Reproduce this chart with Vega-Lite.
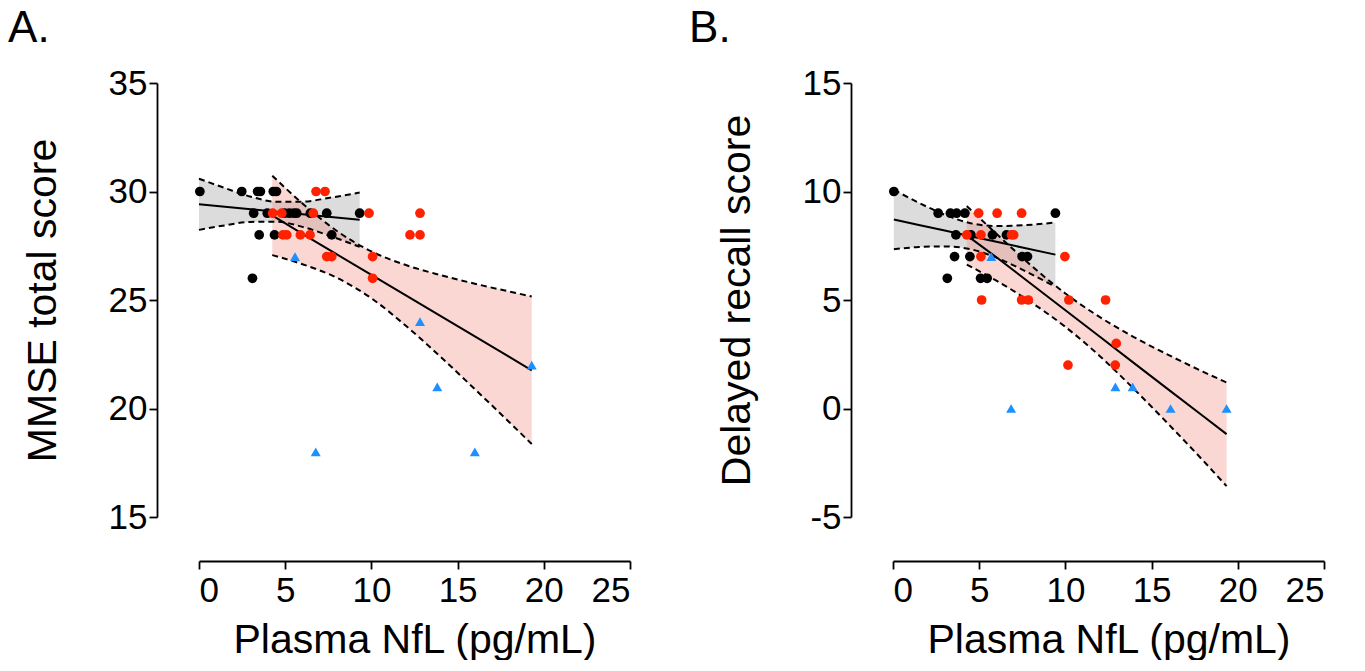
{
  "$schema": "https://vega.github.io/schema/vega-lite/v6.json",
  "background": "white",
  "padding": {"left": 8, "top": 7, "right": 5, "bottom": 0},
  "bounds": "flush",
  "spacing": 263,
  "config": {
    "font": "Liberation Sans",
    "view": {"stroke": null},
    "axis": {
      "grid": false,
      "domainColor": "#000",
      "domainWidth": 1.8,
      "tickColor": "#000",
      "tickWidth": 1.8,
      "tickSize": 8,
      "labelColor": "#000",
      "labelFont": "Liberation Sans",
      "labelFontSize": 35,
      "titleColor": "#000",
      "titleFont": "Liberation Sans",
      "titleFontSize": 41,
      "titleFontWeight": "normal"
    },
    "title": {"font": "Liberation Sans", "fontSize": 44, "fontWeight": "normal", "color": "#000", "anchor": "start", "frame": "bounds"}
  },
  "datasets": {
    "pts": [
      {"panel": "A", "group": "g1", "nfl": 0.05, "value": 30},
      {"panel": "A", "group": "g1", "nfl": 2.48, "value": 30},
      {"panel": "A", "group": "g1", "nfl": 3.4, "value": 30},
      {"panel": "A", "group": "g1", "nfl": 3.56, "value": 30},
      {"panel": "A", "group": "g1", "nfl": 4.31, "value": 30},
      {"panel": "A", "group": "g1", "nfl": 4.49, "value": 30},
      {"panel": "A", "group": "g1", "nfl": 3.17, "value": 29},
      {"panel": "A", "group": "g1", "nfl": 3.96, "value": 29},
      {"panel": "A", "group": "g1", "nfl": 4.96, "value": 29},
      {"panel": "A", "group": "g1", "nfl": 5.24, "value": 29},
      {"panel": "A", "group": "g1", "nfl": 5.5, "value": 29},
      {"panel": "A", "group": "g1", "nfl": 5.67, "value": 29},
      {"panel": "A", "group": "g1", "nfl": 6.46, "value": 29},
      {"panel": "A", "group": "g1", "nfl": 7.41, "value": 29},
      {"panel": "A", "group": "g1", "nfl": 9.32, "value": 29},
      {"panel": "A", "group": "g1", "nfl": 3.49, "value": 28},
      {"panel": "A", "group": "g1", "nfl": 4.38, "value": 28},
      {"panel": "A", "group": "g1", "nfl": 7.7, "value": 28},
      {"panel": "A", "group": "g1", "nfl": 3.1, "value": 26},
      {"panel": "A", "group": "g2", "nfl": 4.27, "value": 29},
      {"panel": "A", "group": "g2", "nfl": 4.8, "value": 29},
      {"panel": "A", "group": "g2", "nfl": 6.63, "value": 29},
      {"panel": "A", "group": "g2", "nfl": 9.86, "value": 29},
      {"panel": "A", "group": "g2", "nfl": 12.82, "value": 29},
      {"panel": "A", "group": "g2", "nfl": 6.79, "value": 30},
      {"panel": "A", "group": "g2", "nfl": 7.31, "value": 30},
      {"panel": "A", "group": "g2", "nfl": 4.87, "value": 28},
      {"panel": "A", "group": "g2", "nfl": 5.09, "value": 28},
      {"panel": "A", "group": "g2", "nfl": 5.88, "value": 28},
      {"panel": "A", "group": "g2", "nfl": 6.44, "value": 28},
      {"panel": "A", "group": "g2", "nfl": 12.24, "value": 28},
      {"panel": "A", "group": "g2", "nfl": 12.82, "value": 28},
      {"panel": "A", "group": "g2", "nfl": 7.41, "value": 27},
      {"panel": "A", "group": "g2", "nfl": 7.7, "value": 27},
      {"panel": "A", "group": "g2", "nfl": 10.07, "value": 27},
      {"panel": "A", "group": "g2", "nfl": 10.07, "value": 26},
      {"panel": "A", "group": "g3", "nfl": 5.57, "value": 27},
      {"panel": "A", "group": "g3", "nfl": 6.77, "value": 18},
      {"panel": "A", "group": "g3", "nfl": 12.82, "value": 24},
      {"panel": "A", "group": "g3", "nfl": 13.82, "value": 21},
      {"panel": "A", "group": "g3", "nfl": 16.0, "value": 18},
      {"panel": "A", "group": "g3", "nfl": 19.3, "value": 22},
      {"panel": "B", "group": "g1", "nfl": 0.05, "value": 10},
      {"panel": "B", "group": "g1", "nfl": 2.62, "value": 9},
      {"panel": "B", "group": "g1", "nfl": 3.33, "value": 9},
      {"panel": "B", "group": "g1", "nfl": 3.69, "value": 9},
      {"panel": "B", "group": "g1", "nfl": 4.17, "value": 9},
      {"panel": "B", "group": "g1", "nfl": 9.42, "value": 9},
      {"panel": "B", "group": "g1", "nfl": 3.65, "value": 8},
      {"panel": "B", "group": "g1", "nfl": 4.52, "value": 8},
      {"panel": "B", "group": "g1", "nfl": 5.77, "value": 8},
      {"panel": "B", "group": "g1", "nfl": 6.58, "value": 8},
      {"panel": "B", "group": "g1", "nfl": 3.57, "value": 7},
      {"panel": "B", "group": "g1", "nfl": 4.46, "value": 7},
      {"panel": "B", "group": "g1", "nfl": 7.49, "value": 7},
      {"panel": "B", "group": "g1", "nfl": 7.8, "value": 7},
      {"panel": "B", "group": "g1", "nfl": 3.15, "value": 6},
      {"panel": "B", "group": "g1", "nfl": 5.08, "value": 6},
      {"panel": "B", "group": "g1", "nfl": 5.46, "value": 6},
      {"panel": "B", "group": "g2", "nfl": 4.97, "value": 9},
      {"panel": "B", "group": "g2", "nfl": 6.04, "value": 9},
      {"panel": "B", "group": "g2", "nfl": 7.46, "value": 9},
      {"panel": "B", "group": "g2", "nfl": 4.28, "value": 8},
      {"panel": "B", "group": "g2", "nfl": 5.1, "value": 8},
      {"panel": "B", "group": "g2", "nfl": 6.87, "value": 8},
      {"panel": "B", "group": "g2", "nfl": 7.0, "value": 8},
      {"panel": "B", "group": "g2", "nfl": 5.1, "value": 7},
      {"panel": "B", "group": "g2", "nfl": 9.97, "value": 7},
      {"panel": "B", "group": "g2", "nfl": 5.14, "value": 5},
      {"panel": "B", "group": "g2", "nfl": 7.46, "value": 5},
      {"panel": "B", "group": "g2", "nfl": 7.85, "value": 5},
      {"panel": "B", "group": "g2", "nfl": 10.2, "value": 5},
      {"panel": "B", "group": "g2", "nfl": 12.33, "value": 5},
      {"panel": "B", "group": "g2", "nfl": 12.95, "value": 3},
      {"panel": "B", "group": "g2", "nfl": 10.15, "value": 2},
      {"panel": "B", "group": "g2", "nfl": 12.89, "value": 2},
      {"panel": "B", "group": "g3", "nfl": 5.7, "value": 7},
      {"panel": "B", "group": "g3", "nfl": 6.85, "value": 0},
      {"panel": "B", "group": "g3", "nfl": 12.9, "value": 1},
      {"panel": "B", "group": "g3", "nfl": 13.9, "value": 1},
      {"panel": "B", "group": "g3", "nfl": 16.1, "value": 0},
      {"panel": "B", "group": "g3", "nfl": 19.35, "value": 0}
    ],
    "fits": [
      {"panel": "A", "group": "g1", "nfl": 0.0, "lo": 28.23, "fit": 29.41, "hi": 30.59},
      {"panel": "A", "group": "g1", "nfl": 1.5, "lo": 28.44, "fit": 29.3, "hi": 30.16},
      {"panel": "A", "group": "g1", "nfl": 3.0, "lo": 28.6, "fit": 29.18, "hi": 29.76},
      {"panel": "A", "group": "g1", "nfl": 4.5, "lo": 28.61, "fit": 29.07, "hi": 29.53},
      {"panel": "A", "group": "g1", "nfl": 6.0, "lo": 28.37, "fit": 28.95, "hi": 29.53},
      {"panel": "A", "group": "g1", "nfl": 7.5, "lo": 27.98, "fit": 28.84, "hi": 29.7},
      {"panel": "A", "group": "g1", "nfl": 9.32, "lo": 27.45, "fit": 28.7, "hi": 29.95},
      {"panel": "A", "group": "g2", "nfl": 4.25, "lo": 27.07, "fit": 28.9, "hi": 30.73},
      {"panel": "A", "group": "g2", "nfl": 6.0, "lo": 26.65, "fit": 28.05, "hi": 29.45},
      {"panel": "A", "group": "g2", "nfl": 8.0, "lo": 26.02, "fit": 27.1, "hi": 28.18},
      {"panel": "A", "group": "g2", "nfl": 10.0, "lo": 25.08, "fit": 26.16, "hi": 27.24},
      {"panel": "A", "group": "g2", "nfl": 12.0, "lo": 23.81, "fit": 25.21, "hi": 26.61},
      {"panel": "A", "group": "g2", "nfl": 14.0, "lo": 22.39, "fit": 24.27, "hi": 26.15},
      {"panel": "A", "group": "g2", "nfl": 16.0, "lo": 20.89, "fit": 23.32, "hi": 25.75},
      {"panel": "A", "group": "g2", "nfl": 18.0, "lo": 19.37, "fit": 22.38, "hi": 25.39},
      {"panel": "A", "group": "g2", "nfl": 19.3, "lo": 18.36, "fit": 21.76, "hi": 25.16},
      {"panel": "B", "group": "g1", "nfl": 0.05, "lo": 7.34, "fit": 8.71, "hi": 10.08},
      {"panel": "B", "group": "g1", "nfl": 1.5, "lo": 7.44, "fit": 8.46, "hi": 9.48},
      {"panel": "B", "group": "g1", "nfl": 3.0, "lo": 7.47, "fit": 8.2, "hi": 8.93},
      {"panel": "B", "group": "g1", "nfl": 4.5, "lo": 7.34, "fit": 7.94, "hi": 8.54},
      {"panel": "B", "group": "g1", "nfl": 6.0, "lo": 6.95, "fit": 7.68, "hi": 8.41},
      {"panel": "B", "group": "g1", "nfl": 7.5, "lo": 6.4, "fit": 7.42, "hi": 8.44},
      {"panel": "B", "group": "g1", "nfl": 9.42, "lo": 5.61, "fit": 7.09, "hi": 8.57},
      {"panel": "B", "group": "g2", "nfl": 4.28, "lo": 6.63, "fit": 7.98, "hi": 9.33},
      {"panel": "B", "group": "g2", "nfl": 6.0, "lo": 5.89, "fit": 6.97, "hi": 8.05},
      {"panel": "B", "group": "g2", "nfl": 8.0, "lo": 4.9, "fit": 5.75, "hi": 6.6},
      {"panel": "B", "group": "g2", "nfl": 10.0, "lo": 3.76, "fit": 4.53, "hi": 5.3},
      {"panel": "B", "group": "g2", "nfl": 12.0, "lo": 2.41, "fit": 3.31, "hi": 4.21},
      {"panel": "B", "group": "g2", "nfl": 14.0, "lo": 0.88, "fit": 2.08, "hi": 3.28},
      {"panel": "B", "group": "g2", "nfl": 16.0, "lo": -0.74, "fit": 0.86, "hi": 2.46},
      {"panel": "B", "group": "g2", "nfl": 18.0, "lo": -2.41, "fit": -0.36, "hi": 1.69},
      {"panel": "B", "group": "g2", "nfl": 19.35, "lo": -3.58, "fit": -1.18, "hi": 1.2}
    ]
  },
  "hconcat": [
    {
      "width": 431,
      "height": 434,
      "title": {"text": "A.", "dx": -14, "offset": 15},
      "encoding": {
        "x": {"field": "nfl", "type": "quantitative", "title": "Plasma NfL (pg/mL)",
              "scale": {"domain": [0, 25], "nice": false, "zero": false},
              "axis": {"values": [0, 5, 10, 15, 20, 25], "offset": 44, "labelPadding": 4, "titlePadding": 12}}
      },
      "layer": [
        {
          "data": {"name": "fits"},
          "transform": [{"filter": "datum.panel === 'A' && datum.group === 'g1'"}],
          "mark": {"type": "area", "color": "#dcdcdc", "interpolate": "monotone"},
          "encoding": {"y": {"field": "lo", "type": "quantitative"}, "y2": {"field": "hi"}}
        },
        {
          "data": {"name": "fits"},
          "transform": [{"filter": "datum.panel === 'A' && datum.group === 'g2'"}],
          "mark": {"type": "area", "color": "#f28b80", "opacity": 0.35, "interpolate": "monotone"},
          "encoding": {"y": {"field": "lo", "type": "quantitative"}, "y2": {"field": "hi"}}
        },
        {
          "data": {"name": "fits"},
          "transform": [{"filter": "datum.panel === 'A'"}],
          "mark": {"type": "line", "color": "#000", "strokeWidth": 2, "strokeDash": [6, 4], "interpolate": "monotone"},
          "encoding": {"y": {"field": "lo", "type": "quantitative"}, "detail": {"field": "group"}}
        },
        {
          "data": {"name": "fits"},
          "transform": [{"filter": "datum.panel === 'A'"}],
          "mark": {"type": "line", "color": "#000", "strokeWidth": 2, "strokeDash": [6, 4], "interpolate": "monotone"},
          "encoding": {"y": {"field": "hi", "type": "quantitative"}, "detail": {"field": "group"}}
        },
        {
          "data": {"name": "fits"},
          "transform": [{"filter": "datum.panel === 'A'"}],
          "mark": {"type": "line", "color": "#000", "strokeWidth": 2},
          "encoding": {"y": {"field": "fit", "type": "quantitative"}, "detail": {"field": "group"}}
        },
        {
          "data": {"name": "pts"},
          "transform": [{"filter": "datum.panel === 'A' && datum.group !== 'g3'"}],
          "mark": {"type": "circle", "size": 95, "opacity": 1},
          "encoding": {
            "y": {"field": "value", "type": "quantitative", "title": "MMSE total score",
                  "scale": {"domain": [15, 35], "nice": false, "zero": false},
                  "axis": {"values": [15, 20, 25, 30, 35], "offset": 42, "labelPadding": 2, "titlePadding": 44}},
            "color": {"field": "group", "type": "nominal", "legend": null,
                      "scale": {"domain": ["g1", "g2", "g3"], "range": ["#000000", "#ff2200", "#1e90ff"]}}
          }
        },
        {
          "data": {"name": "pts"},
          "transform": [{"filter": "datum.panel === 'A' && datum.group === 'g3'"}],
          "mark": {"type": "point", "shape": "triangle-up", "filled": true, "size": 100, "opacity": 1},
          "encoding": {
            "y": {"field": "value", "type": "quantitative"},
            "color": {"field": "group", "type": "nominal", "legend": null}
          }
        }
      ]
    },
    {
      "width": 431,
      "height": 434,
      "title": {"text": "B.", "dx": -27, "offset": 15},
      "encoding": {
        "x": {"field": "nfl", "type": "quantitative", "title": "Plasma NfL (pg/mL)",
              "scale": {"domain": [0, 25], "nice": false, "zero": false},
              "axis": {"values": [0, 5, 10, 15, 20, 25], "offset": 44, "labelPadding": 4, "titlePadding": 12}}
      },
      "layer": [
        {
          "data": {"name": "fits"},
          "transform": [{"filter": "datum.panel === 'B' && datum.group === 'g1'"}],
          "mark": {"type": "area", "color": "#dcdcdc", "interpolate": "monotone"},
          "encoding": {"y": {"field": "lo", "type": "quantitative"}, "y2": {"field": "hi"}}
        },
        {
          "data": {"name": "fits"},
          "transform": [{"filter": "datum.panel === 'B' && datum.group === 'g2'"}],
          "mark": {"type": "area", "color": "#f28b80", "opacity": 0.35, "interpolate": "monotone"},
          "encoding": {"y": {"field": "lo", "type": "quantitative"}, "y2": {"field": "hi"}}
        },
        {
          "data": {"name": "fits"},
          "transform": [{"filter": "datum.panel === 'B'"}],
          "mark": {"type": "line", "color": "#000", "strokeWidth": 2, "strokeDash": [6, 4], "interpolate": "monotone"},
          "encoding": {"y": {"field": "lo", "type": "quantitative"}, "detail": {"field": "group"}}
        },
        {
          "data": {"name": "fits"},
          "transform": [{"filter": "datum.panel === 'B'"}],
          "mark": {"type": "line", "color": "#000", "strokeWidth": 2, "strokeDash": [6, 4], "interpolate": "monotone"},
          "encoding": {"y": {"field": "hi", "type": "quantitative"}, "detail": {"field": "group"}}
        },
        {
          "data": {"name": "fits"},
          "transform": [{"filter": "datum.panel === 'B'"}],
          "mark": {"type": "line", "color": "#000", "strokeWidth": 2},
          "encoding": {"y": {"field": "fit", "type": "quantitative"}, "detail": {"field": "group"}}
        },
        {
          "data": {"name": "pts"},
          "transform": [{"filter": "datum.panel === 'B' && datum.group !== 'g3'"}],
          "mark": {"type": "circle", "size": 95, "opacity": 1},
          "encoding": {
            "y": {"field": "value", "type": "quantitative", "title": "Delayed recall score",
                  "scale": {"domain": [-5, 15], "nice": false, "zero": false},
                  "axis": {"values": [-5, 0, 5, 10, 15], "offset": 42, "labelPadding": 2, "titlePadding": 44,
                           "labelExpr": "(datum.value < 0 ? '-' : '') + abs(datum.value)"}},
            "color": {"field": "group", "type": "nominal", "legend": null,
                      "scale": {"domain": ["g1", "g2", "g3"], "range": ["#000000", "#ff2200", "#1e90ff"]}}
          }
        },
        {
          "data": {"name": "pts"},
          "transform": [{"filter": "datum.panel === 'B' && datum.group === 'g3'"}],
          "mark": {"type": "point", "shape": "triangle-up", "filled": true, "size": 100, "opacity": 1},
          "encoding": {
            "y": {"field": "value", "type": "quantitative"},
            "color": {"field": "group", "type": "nominal", "legend": null}
          }
        }
      ]
    }
  ]
}
